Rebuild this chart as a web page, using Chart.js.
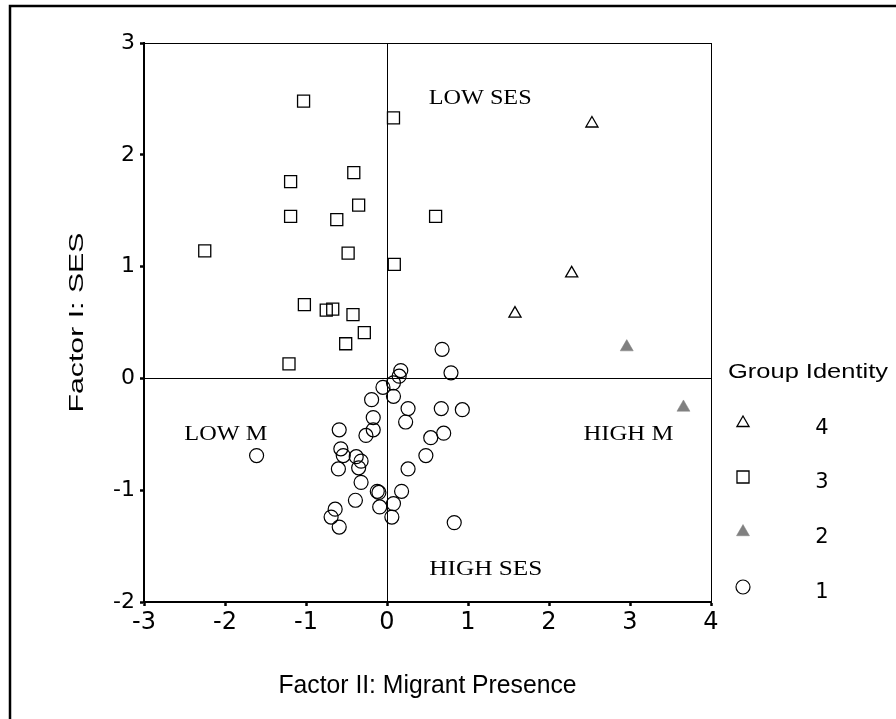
<!DOCTYPE html>
<html>
<head>
<meta charset="utf-8">
<script src="https://cdn.jsdelivr.net/npm/chart.js@4.4.0/dist/chart.umd.min.js"></script>
<style>
html, body { margin: 0; padding: 0; background: #fff; }
canvas { display: block; }
</style>
</head>
<body>
<canvas id="chart" width="896" height="719"></canvas>
<script>
// Group 4 - open triangles
var group4X = [2.53, 2.28, 1.58];
var group4Y = [2.28, 0.94, 0.58];

// Group 3 - open squares
var group3X = [-1.03, 0.08, -0.41, -1.19, -0.35, -1.19, -0.62, 0.60, -2.25, -0.48, 0.09, -1.02, -0.75, -0.67, -0.42, -0.28, -0.51, -1.21];
var group3Y = [2.48, 2.33, 1.84, 1.76, 1.55, 1.45, 1.42, 1.45, 1.14, 1.12, 1.02, 0.66, 0.61, 0.62, 0.57, 0.41, 0.31, 0.13];

// Group 2 - filled grey triangles
var group2X = [2.96, 3.66];
var group2Y = [0.28, -0.26];

// Group 1 - open circles
var group1X = [0.68, 0.79, 0.17, 0.15, 0.08, -0.05, 0.08, -0.19, 0.26, 0.67, 0.93, -0.17, 0.23, -0.59, -0.17, -0.26, 0.70, 0.54, -1.61, -0.57,
               -0.54, -0.38, -0.32, 0.48, -0.60, -0.35, 0.26, -0.32, -0.12, -0.10, 0.18, -0.39, 0.08, -0.09, -0.64, -0.69, 0.06, -0.59, 0.83];
var group1Y = [0.26, 0.05, 0.07, 0.02, -0.04, -0.08, -0.16, -0.19, -0.27, -0.27, -0.28, -0.35, -0.39, -0.46, -0.46, -0.51, -0.49, -0.53, -0.69, -0.63,
               -0.69, -0.70, -0.74, -0.69, -0.81, -0.80, -0.81, -0.93, -1.01, -1.02, -1.01, -1.09, -1.12, -1.15, -1.17, -1.24, -1.24, -1.33, -1.29];

var groupNames = ['1', '2', '3', '4'];
var quadrantNames = ['LOW SES', 'LOW M', 'HIGH M', 'HIGH SES'];
var xTitle = 'Factor II: Migrant Presence';
var yTitle = 'Factor I: SES';
var legendTitle = 'Group Identity';

function toPoints(xs, ys) {
    var pts = [];
    for (var i = 0; i < xs.length; i++) {
        pts.push({ x: xs[i], y: ys[i] });
    }
    return pts;
}

// where the quadrant captions sit, in data units (centre x, baseline y)
var quadrantSpots = [
    { x: 1.15, y: 2.45, w: 103 },
    { x: -1.99, y: -0.55, w: 83 },
    { x: 2.98, y: -0.55, w: 90 },
    { x: 1.22, y: -1.76, w: 113 }
];

// draw text squeezed/stretched to a given width
function fitText(ctx, text, x, y, width) {
    var w = ctx.measureText(text).width;
    ctx.save();
    ctx.translate(x, y);
    ctx.scale(width / w, 1);
    ctx.textAlign = 'center';
    ctx.fillText(text, 0, 0);
    ctx.restore();
}

var decorations = {
    id: 'decorations',
    beforeDraw: function(chart) {
        var ctx = chart.ctx;
        ctx.save();
        ctx.fillStyle = '#fff';
        ctx.fillRect(0, 0, chart.width, chart.height);
        // outer frame (only top and left show)
        ctx.strokeStyle = '#000';
        ctx.lineWidth = 2.5;
        ctx.beginPath();
        ctx.moveTo(10, chart.height);
        ctx.lineTo(10, 6);
        ctx.lineTo(chart.width, 6);
        ctx.stroke();
        ctx.restore();
    },
    afterDraw: function(chart) {
        var ctx = chart.ctx;
        var xs = chart.scales.x, ys = chart.scales.y;
        ctx.save();
        ctx.fillStyle = '#000';
        ctx.textBaseline = 'alphabetic';

        // quadrant captions
        ctx.font = '22px "Liberation Serif", "Times New Roman", serif';
        for (var i = 0; i < quadrantNames.length; i++) {
            var s = quadrantSpots[i];
            fitText(ctx, quadrantNames[i], xs.getPixelForValue(s.x), ys.getPixelForValue(s.y), s.w);
        }

        // axis titles
        ctx.font = '25px "Liberation Sans", Arial, sans-serif';
        fitText(ctx, xTitle, (chart.chartArea.left + chart.chartArea.right) / 2, 693, 298);

        ctx.save();
        ctx.translate(83, (chart.chartArea.top + chart.chartArea.bottom) / 2);
        ctx.rotate(-Math.PI / 2);
        ctx.font = '21px "Liberation Sans", Arial, sans-serif';
        fitText(ctx, yTitle, 0, 0, 180);
        ctx.restore();

        // legend
        ctx.font = '21px "Liberation Sans", Arial, sans-serif';
        ctx.save();
        var lw = ctx.measureText(legendTitle).width;
        ctx.translate(728, 378);
        ctx.scale(160 / lw, 1);
        ctx.textAlign = 'left';
        ctx.fillText(legendTitle, 0, 0);
        ctx.restore();

        var rowY = [423, 477, 532, 587];
        ctx.font = '21px "DejaVu Sans", Verdana, sans-serif';
        ctx.textAlign = 'center';
        var order = chart.data.datasets.slice().reverse();
        for (var j = 0; j < order.length; j++) {
            var ds = order[j];
            ctx.fillStyle = ds.backgroundColor;
            ctx.strokeStyle = ds.borderColor;
            ctx.lineWidth = ds.borderWidth;
            Chart.helpers.drawPoint(ctx, {
                pointStyle: ds.pointStyle,
                radius: ds.pointRadius,
                rotation: 0,
                borderWidth: ds.borderWidth
            }, 743, rowY[j]);
            ctx.fillStyle = '#000';
            ctx.fillText(ds.label, 822, rowY[j] + 11);
        }
        ctx.restore();
    }
};

var lineAt = function(vals) {
    return function(c) {
        return vals.indexOf(c.tick.value) >= 0 ? '#000' : 'rgba(0,0,0,0)';
    };
};

var ctx = document.getElementById('chart').getContext('2d');
var chart = new Chart(ctx, {
    type: 'scatter',
    data: {
        datasets: [
            {
                label: groupNames[0],
                data: toPoints(group1X, group1Y),
                pointStyle: 'circle',
                pointRadius: 7,
                backgroundColor: 'rgba(0,0,0,0)',
                borderColor: '#000',
                borderWidth: 1.2
            },
            {
                label: groupNames[1],
                data: toPoints(group2X, group2Y),
                pointStyle: 'triangle',
                pointRadius: 7.5,
                backgroundColor: '#808080',
                borderColor: '#808080',
                borderWidth: 0.5
            },
            {
                label: groupNames[2],
                data: toPoints(group3X, group3Y),
                pointStyle: 'rect',
                pointRadius: 8.5,
                backgroundColor: 'rgba(0,0,0,0)',
                borderColor: '#000',
                borderWidth: 1.3
            },
            {
                label: groupNames[3],
                data: toPoints(group4X, group4Y),
                pointStyle: 'triangle',
                pointRadius: 7,
                backgroundColor: 'rgba(0,0,0,0)',
                borderColor: '#000',
                borderWidth: 1.3
            }
        ]
    },
    options: {
        responsive: false,
        animation: false,
        events: [],
        layout: {
            padding: { left: 0, top: 43, right: 185, bottom: 0 }
        },
        scales: {
            x: {
                type: 'linear',
                min: -3,
                max: 4,
                afterFit: function(s) { s.height = 117; },
                ticks: {
                    stepSize: 1,
                    color: '#000',
                    padding: 2,
                    font: { family: '"DejaVu Sans", Verdana, sans-serif', size: 24 }
                },
                grid: {
                    color: lineAt([0, 4]),
                    lineWidth: 1,
                    tickColor: '#000',
                    tickWidth: 2.5,
                    tickLength: 4
                },
                border: { display: true, color: '#000', width: 2 }
            },
            y: {
                type: 'linear',
                min: -2,
                max: 3,
                afterFit: function(s) { s.width = 144; },
                ticks: {
                    stepSize: 1,
                    color: '#000',
                    padding: 5,
                    font: { family: '"DejaVu Sans", Verdana, sans-serif', size: 22 }
                },
                grid: {
                    color: lineAt([0, 3]),
                    lineWidth: 1,
                    tickColor: '#000',
                    tickWidth: 2.5,
                    tickLength: 4
                },
                border: { display: true, color: '#000', width: 2 }
            }
        },
        plugins: {
            legend: { display: false },
            tooltip: { enabled: false }
        }
    },
    plugins: [decorations]
});
</script>
</body>
</html>
